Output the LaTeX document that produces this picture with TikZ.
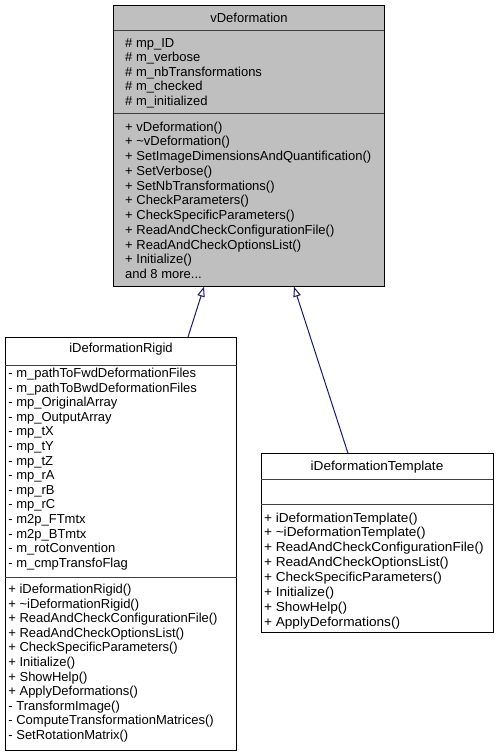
\documentclass[tikz,border=0pt]{standalone}
\usepackage{fontspec}
\setmainfont{Liberation Sans}
\usetikzlibrary{arrows.meta}
\definecolor{boxgray}{HTML}{BFBFBF}
\definecolor{edgeblue}{HTML}{191970}
\definecolor{sepgray}{HTML}{404040}
\newcommand{\umlfont}{\fontsize{13}{15}\selectfont}
\begin{document}
\begin{tikzpicture}[x=1pt,y=-1pt,
  box/.style={draw=black, line width=1pt, inner sep=0pt, outer sep=0pt, anchor=north west},
  sepline/.style={draw=sepgray, line width=1pt},
  txt/.style={inner sep=0pt, anchor=base west, font=\umlfont, text=black},
  ttxt/.style={inner sep=0pt, anchor=base west, font=\umlfont\addfontfeature{FakeStretch=1.05}, text=black},
  hdr/.style={inner sep=0pt, anchor=base, font=\umlfont, text=black},
  inh/.style={draw=edgeblue, line width=1pt, -{Triangle[open, length=10pt, width=7.5pt]}}]
\useasboundingbox (0,0) rectangle (499,756);

% vDeformation
\node[box, fill=boxgray, minimum width=270.5pt, minimum height=281pt] (vd) at (113.8,5.7) {};
\draw[sepline] (vd.west |- 0,30.7) -- (vd.east |- 0,30.7);
\draw[sepline] (vd.west |- 0,113.5) -- (vd.east |- 0,113.5);
\node[hdr] (vdh) at (249,22) {vDeformation};
\foreach \t [count=\i] in {\# mp\_ID, \# m\_verbose, \# m\_nbTransformations, \# m\_checked, \# m\_initialized}
  \node[txt, name=vda\i] at (125,{47.2+14.5*(\i-1)}) {\t};
\foreach \t [count=\i] in {+ vDeformation(), + \textasciitilde vDeformation(), + SetImageDimensionsAndQuantification(), + SetVerbose(), + SetNbTransformations(), + CheckParameters(), + CheckSpecificParameters(), + ReadAndCheckConfigurationFile(), + ReadAndCheckOptionsList(), + Initialize()}
  \node[txt, name=vdm\i] at (125,{131.2+14.73*(\i-1)}) {\t};
\node[txt] (vdmore) at (125,{131.2+14.73*10}) {and 8 more...};

% iDeformationRigid
\node[box, fill=white, minimum width=231.7pt, minimum height=413pt] (rig) at (5,337) {};
\draw[sepline] (rig.west |- 0,365) -- (rig.east |- 0,365);
\draw[sepline] (rig.west |- 0,577) -- (rig.east |- 0,577);
\node[hdr] (righ) at (121,352.5) {iDeformationRigid};
\foreach \t [count=\i] in {- m\_pathToFwdDeformationFiles, - m\_pathToBwdDeformationFiles, - mp\_OriginalArray, - mp\_OutputArray, - mp\_tX, - mp\_tY, - mp\_tZ, - mp\_rA, - mp\_rB, - mp\_rC, - m2p\_FTmtx, - m2p\_BTmtx, - m\_rotConvention, - m\_cmpTransfoFlag}
  \node[txt, name=riga\i] at (8.2,{377.5+14.6*(\i-1)}) {\t};
\foreach \t [count=\i] in {+ iDeformationRigid(), + \textasciitilde iDeformationRigid(), + ReadAndCheckConfigurationFile(), + ReadAndCheckOptionsList(), + CheckSpecificParameters(), + Initialize(), + ShowHelp(), + ApplyDeformations(), - TransformImage(), - ComputeTransformationMatrices(), - SetRotationMatrix()}
  \node[txt, name=rigm\i] at (8.2,{593.5+14.6*(\i-1)}) {\t};

% iDeformationTemplate
\node[box, fill=white, minimum width=232pt, minimum height=178.7pt] (tpl) at (261,453.3) {};
\draw[sepline] (tpl.west |- 0,479) -- (tpl.east |- 0,479);
\draw[sepline] (tpl.west |- 0,504.7) -- (tpl.east |- 0,504.7);
\node[hdr, font=\umlfont\addfontfeature{FakeStretch=1.05}] (tplh) at (377,470.5) {iDeformationTemplate};
\foreach \t [count=\i] in {+ iDeformationTemplate(), + \textasciitilde iDeformationTemplate(), + ReadAndCheckConfigurationFile(), + ReadAndCheckOptionsList(), + CheckSpecificParameters(), + Initialize(), + ShowHelp(), + ApplyDeformations()}
  \node[ttxt, name=tplm\i] at (263.8,{522+14.9*(\i-1)}) {\t};

% inheritance
\draw[inh] (rig.north -| 188,0) -- (vd.south -| 204,0);
\draw[inh] (tpl.north -| 348,0) -- (vd.south -| 294,0);
\end{tikzpicture}
\end{document}
